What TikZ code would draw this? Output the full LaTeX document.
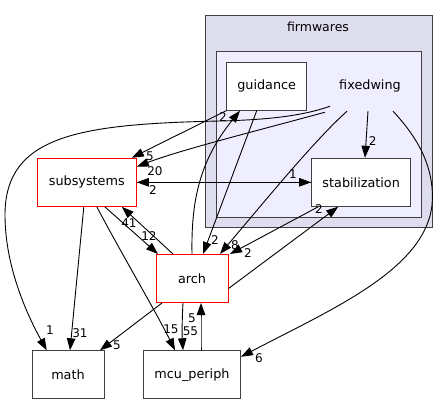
\documentclass[tikz,border=0pt]{standalone}
\usepackage{fontspec}
\setmainfont{DejaVu Sans}
\usetikzlibrary{arrows.meta}
\definecolor{clouter}{RGB}{221,221,238}
\definecolor{clinner}{RGB}{238,238,255}
\definecolor{clborder}{RGB}{64,64,64}
\tikzset{
  dirbox/.style={draw=clborder, fill=white, line width=1pt, minimum width=#1, minimum height=48pt, inner sep=0pt, font=\fontsize{12.8}{15}\selectfont},
  redbox/.style={draw=red, fill=white, line width=1pt, minimum width=#1, minimum height=48pt, inner sep=0pt, font=\fontsize{12.8}{15}\selectfont},
  edge/.style={draw=black, line width=0.9pt, -{Triangle[length=12pt,width=8.5pt]}},
  elabel/.style={font=\fontsize{12}{14}\selectfont, inner sep=0pt},
}
\begin{document}
\begin{tikzpicture}[x=1pt,y=-1pt]
\useasboundingbox (0,0) rectangle (448,404);
% clusters
\draw[draw=clborder, fill=clouter, line width=1pt] (205.7,15.7) rectangle (432.3,227.7);
\node[font=\fontsize{12.5}{14}\selectfont] (firmwares) at (318,27) {firmwares};
\draw[draw=clborder, fill=clinner, line width=1pt] (216,51.7) rectangle (421.7,217.3);
\node[font=\fontsize{12.8}{15}\selectfont, minimum width=76pt, minimum height=50pt, inner sep=0pt] (fw) at (370,86) {fixedwing};
% nodes
\node[dirbox=80pt] (guidance) at (266.7,86.2) {guidance};
\node[dirbox=99pt] (stab) at (361.2,182.3) {stabilization};
\node[redbox=99pt] (subs) at (86.8,182.3) {subsystems};
\node[redbox=72pt] (arch) at (192,278.5) {arch};
\node[dirbox=72pt] (math) at (68,374.8) {math};
\node[dirbox=97pt] (mcu) at (192,374.8) {mcu\_periph};
% edges
% fixedwing -> math
\draw[edge] ([xshift=-40pt,yshift=5pt]fw.south) .. controls (300,117) and (260,120) .. (220,121)
  .. controls (80,124) and (5,135) .. (5,215)
  .. controls (5,270) and (30,320) .. ([xshift=-21.3pt]math.north);
\node[elabel] (l1) at (50,330) {1};
% fixedwing -> subsystems
\draw[edge] ([xshift=-45pt,yshift=-1pt]fw.south) .. controls (260,130) and (180,150) .. ([yshift=15.6pt]subs.east);
\node[elabel] (l20) at (155,171) {20};
% guidance -> subsystems
\draw[edge] (guidance.south west) -- ([xshift=45pt]subs.north);
\node[elabel] (l5a) at (150,156) {5};
% arch -> guidance
\draw[edge] (arch.north) .. controls (191,200) and (200,160) .. ([xshift=-26.7pt]guidance.south);
\node[elabel] (l2a) at (223,117) {2};
% guidance -> arch
\draw[edge] ([xshift=-10pt]guidance.south) -- ([xshift=11pt]arch.north);
\node[elabel] (l2b) at (215,240) {2};
% fixedwing -> arch
\draw[edge] ([xshift=-23pt]fw.south) .. controls (315,140) and (270,195) .. ([xshift=28pt]arch.north);
\node[elabel] (l8) at (235,245) {8};
% fixedwing -> stabilization
\draw[edge] ([xshift=-2pt]fw.south) -- ([xshift=3.8pt]stab.north);
\node[elabel] (l2c) at (372.7,140.7) {2};
% fixedwing -> mcu_periph
\draw[edge] ([xshift=23pt]fw.south) .. controls (420,140) and (435,170) .. (432,205)
  .. controls (425,270) and (330,310) .. ([yshift=18pt]mcu.east);
\node[elabel] (l6) at (259,358) {6};
% stabilization <-> subsystems
\draw[edge] (stab.west) -- (subs.east);
\node[elabel] (l2d) at (153,190) {2};
\draw[edge] (subs.east) -- (stab.west);
\node[elabel] (l1b) at (293,174) {1};
% stabilization -> arch
\draw[edge] ([xshift=-43pt]stab.south) -- ([xshift=38pt]arch.north);
\node[elabel] (l2e) at (319,209) {2};
% arch -> stabilization
\draw[edge] ([yshift=-10pt]arch.east) -- ([xshift=-23pt]stab.south);
\node[elabel] (l2f) at (248,253) {2};
% subsystems -> arch
\draw[edge] ([xshift=18pt]subs.south) -- ([xshift=-34pt]arch.north);
\node[elabel] (l12) at (149,236) {12};
% arch -> subsystems
\draw[edge] ([xshift=-19pt]arch.north) -- ([xshift=35pt]subs.south);
\node[elabel] (l41) at (129,223) {41};
% subsystems -> math
\draw[edge] ([xshift=-3pt]subs.south) -- ([xshift=2pt]math.north);
\node[elabel] (l31) at (80,333) {31};
% subsystems -> mcu_periph
\draw[edge] ([xshift=10pt]subs.south) .. controls (125,260) and (155,310) .. ([xshift=-17pt]mcu.north);
\node[elabel] (l15) at (171,329) {15};
% arch -> math
\draw[edge] ([xshift=-30pt]arch.south) -- ([xshift=32pt]math.north);
\node[elabel] (l5b) at (117,345) {5};
% arch -> mcu_periph
\draw[edge] ([xshift=-9pt]arch.south) .. controls (182,320) and (182,335) .. ([xshift=-9pt]mcu.north);
\node[elabel] (l55) at (190.5,331) {55};
% mcu_periph -> arch
\draw[edge] ([xshift=9pt]mcu.north) .. controls (201,335) and (201,320) .. ([xshift=9pt]arch.south);
\node[elabel] (l5c) at (192,318.5) {5};
\end{tikzpicture}
\end{document}
